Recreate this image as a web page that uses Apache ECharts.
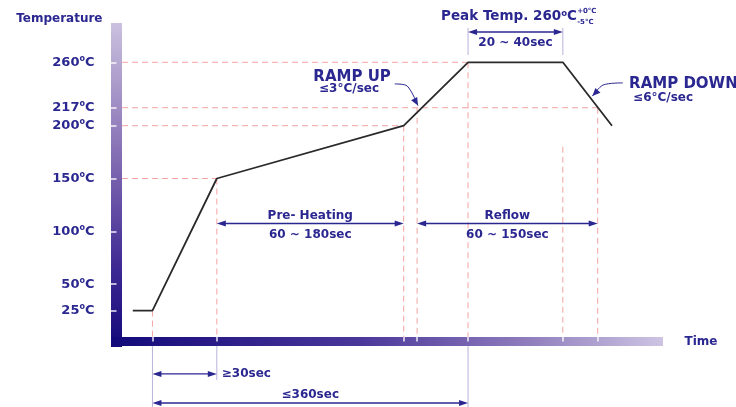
<!DOCTYPE html>
<html><head><meta charset="utf-8">
<script src="https://cdn.jsdelivr.net/npm/echarts@6/dist/echarts.min.js"></script>
<style>html,body{margin:0;padding:0;background:#fff}#c{width:736px;height:407px}</style>
</head><body><div id="c"></div>
<script>
// ---------------- data ----------------
const tempTicks = [25, 50, 100, 150, 200, 217, 260];
const profileTime = [12, 34, 106, 315, 387, 493, 548];
const profileTemp = [25, 25, 150, 200, 260, 260, 200];
const timeMarks = [34, 106, 315, 330, 387, 493, 532];
const guideTemp = [260, 217, 200, 150];
const guideTempEnd = [387, 532, 315, 106];
const guideTime = [34, 106, 315, 330, 387, 493, 532];
const guideTimeTop = [25, 150, 200, 217, 260, 180, 217];
const spanStart = [387, 106, 330, 34, 34];
const spanEnd = [493, 315, 532, 106, 387];
const spanTitle = ['', 'Pre- Heating', 'Reflow', '', '≤360sec'];
const spanDuration = ['20 ~ 40sec', '60 ~ 180sec', '60 ~ 150sec', '≥30sec', ''];
const noteText = ['RAMP UP', '≤3°C/sec', 'RAMP DOWN', '≤6°C/sec'];
const peakTitle = 'Peak Temp. 260';
const toleranceText = ['+0°C', '-5°C'];

// ---------------- layout (positions in axis units) ----------------
const spanLevel = [288.7, 107.4, 107.4, -35, -62.5];
const spanDurationPlace = ['below', 'below', 'below', 'right', 'below'];
const extTime = [387, 493, 34, 106, 387];
const extFrom = [292.5, 292.5, -8.5, -8.5, -8.5];
const extTo = [266.9, 266.9, -66.3, -40.7, -66.3];
const leaderTime = [[305, 319, 331], [560, 538, 526]];
const leaderTemp = [[239.5, 237.5, 219], [240.5, 238.5, 228]];
const noteTime = [257.3, 253.9, 567.1, 571.6];
const noteTemp = [246.4, 234.5, 239.5, 225.9];
const noteAlign = ['center', 'center', 'left', 'left'];
const noteSize = [15, 12, 15, 12];
const peakPos = [356.8, 302.9];
const tolTime = 509;
const tolTemp = [308.6, 298.2];

const NAVY = '#2b2790';
const PINK = '#f5a3a3';
const LAV = '#b8b1dc';
const FF = 'DejaVu Sans';

function head(tip, from, len, half) {
  const dx = tip[0] - from[0], dy = tip[1] - from[1];
  const d = Math.hypot(dx, dy) || 1;
  const ux = dx / d, uy = dy / d;
  const bx = tip[0] - ux * len, by = tip[1] - uy * len;
  return [[tip[0], tip[1]], [bx - uy * half, by + ux * half], [bx + uy * half, by - ux * half]];
}
function txt(text, x, y, align, size) {
  return {type: 'text', style: {text, x, y, align, verticalAlign: 'middle',
    fontSize: size, fontWeight: 'bold', fontFamily: FF, fill: NAVY}};
}

const chart = echarts.init(document.getElementById('c'));
const option = {
  animation: false,
  backgroundColor: '#fff',
  grid: {left: 116.5, right: 77.5, top: 28.5, bottom: 65.5, containLabel: false, outerBoundsMode: 'none'},
  xAxis: {
    type: 'value', min: -6.2, max: 600,
    name: 'Time', nameLocation: 'end', nameGap: 26,
    nameTextStyle: {color: NAVY, fontFamily: FF, fontWeight: 'bold', fontSize: 12},
    axisLine: {show: true, onZero: false, lineStyle: {width: 9, cap: 'square',
      color: new echarts.graphic.LinearGradient(0, 0, 1, 0, [
        {offset: 0, color: '#13097a'}, {offset: 0.45, color: '#4a379a'},
        {offset: 0.75, color: '#8e7cbc'}, {offset: 1, color: '#cdc4e3'}])}},
    axisTick: {show: true, inside: true, customValues: timeMarks, length: 4.5,
      lineStyle: {color: 'rgba(255,255,255,0.9)', width: 1.5}},
    axisLabel: {show: false},
    splitLine: {show: false}
  },
  yAxis: {
    type: 'value', min: -4.3, max: 292,
    name: 'Temperature', nameLocation: 'end', nameGap: 4,
    nameTextStyle: {color: NAVY, fontFamily: FF, fontWeight: 'bold', fontSize: 12,
      align: 'right', padding: [0, 14, 0, 0]},
    axisLine: {show: true, onZero: false, lineStyle: {width: 11, cap: 'square',
      color: new echarts.graphic.LinearGradient(0, 0, 0, 1, [
        {offset: 0, color: '#cbc1df'}, {offset: 0.4, color: '#8670b4'},
        {offset: 0.75, color: '#3f2a94'}, {offset: 1, color: '#13097a'}])}},
    axisTick: {show: true, customValues: tempTicks, length: 5.5,
      lineStyle: {color: 'rgba(255,255,255,0.9)', width: 1.5}},
    axisLabel: {
      customValues: tempTicks, margin: 22,
      formatter: v => `{n|${v}}{s|o}{n|C}`,
      rich: {
        n: {fontSize: 13, fontWeight: 'bold', fontFamily: FF, color: NAVY, lineHeight: 15},
        s: {fontSize: 8, fontWeight: 'bold', fontFamily: FF, color: NAVY, lineHeight: 9, verticalAlign: 'top'}
      }
    },
    splitLine: {show: false}
  },
  series: [
    { // horizontal guides
      type: 'custom', clip: false, silent: true, z: 1,
      data: guideTemp.map((T, i) => [0, guideTempEnd[i], T]),
      renderItem(p, api) {
        const a = api.coord([api.value(0), api.value(2)]);
        const b = api.coord([api.value(1), api.value(2)]);
        return {type: 'line', shape: {x1: a[0], y1: a[1], x2: b[0], y2: b[1]},
          style: {stroke: PINK, lineWidth: 1, lineDash: [6, 4]}};
      }
    },
    { // vertical guides
      type: 'custom', clip: false, silent: true, z: 1,
      data: guideTime.map((t, i) => [t, 0, guideTimeTop[i]]),
      renderItem(p, api) {
        const a = api.coord([api.value(0), api.value(2)]);
        const b = api.coord([api.value(0), api.value(1)]);
        return {type: 'line', shape: {x1: a[0], y1: a[1], x2: b[0], y2: b[1]},
          style: {stroke: PINK, lineWidth: 1, lineDash: [6, 4]}};
      }
    },
    { // extension lines for dimension arrows
      type: 'custom', clip: false, silent: true, z: 1,
      data: extTime.map((t, i) => [t, extFrom[i], extTo[i]]),
      renderItem(p, api) {
        const a = api.coord([api.value(0), api.value(1)]);
        const b = api.coord([api.value(0), api.value(2)]);
        return {type: 'line', shape: {x1: a[0], y1: a[1], x2: b[0], y2: b[1]},
          style: {stroke: LAV, lineWidth: 1}};
      }
    },
    { // reflow profile
      type: 'line', z: 3, silent: true, showSymbol: false, symbol: 'none',
      data: profileTime.map((t, i) => [t, profileTemp[i]]),
      lineStyle: {color: '#2a2a2a', width: 1.8}
    },
    { // dimension arrows
      type: 'custom', clip: false, silent: true, z: 4,
      data: spanStart.map((s, i) => [s, spanEnd[i], spanLevel[i]]),
      renderItem(p, api) {
        const i = p.dataIndex;
        const a = api.coord([api.value(0), api.value(2)]);
        const b = api.coord([api.value(1), api.value(2)]);
        const ch = [
          {type: 'line', shape: {x1: a[0] + 4, y1: a[1], x2: b[0] - 4, y2: b[1]}, style: {stroke: NAVY, lineWidth: 1.3}},
          {type: 'polygon', shape: {points: head(a, [a[0] + 1, a[1]], 9, 3)}, style: {fill: NAVY}},
          {type: 'polygon', shape: {points: head(b, [b[0] - 1, b[1]], 9, 3)}, style: {fill: NAVY}}
        ];
        const mid = (a[0] + b[0]) / 2;
        if (spanTitle[i]) ch.push(txt(spanTitle[i], mid, a[1] - 8, 'center', 12));
        if (spanDuration[i]) {
          if (spanDurationPlace[i] === 'right') ch.push(txt(spanDuration[i], b[0] + 5, b[1], 'left', 12));
          else ch.push(txt(spanDuration[i], mid, a[1] + 11, 'center', 12));
        }
        return {type: 'group', children: ch};
      }
    },
    { // ramp leaders
      type: 'custom', clip: false, silent: true, z: 4,
      data: leaderTime.map((ts, i) => [ts[ts.length - 1], leaderTemp[i][ts.length - 1]]),
      renderItem(p, api) {
        const i = p.dataIndex;
        const pts = leaderTime[i].map((t, k) => api.coord([t, leaderTemp[i][k]]));
        const tip = pts[pts.length - 1], prev = pts[pts.length - 2];
        return {type: 'group', children: [
          {type: 'polyline', shape: {points: pts, smooth: 0.3}, style: {stroke: NAVY, lineWidth: 1, fill: null}},
          {type: 'polygon', shape: {points: head(tip, prev, 8, 3.5)}, style: {fill: NAVY}}
        ]};
      }
    },
    { // notes
      type: 'custom', clip: false, silent: true, z: 5,
      data: noteTime.map((t, i) => [t, noteTemp[i]]),
      renderItem(p, api) {
        const i = p.dataIndex;
        const c = api.coord([api.value(0), api.value(1)]);
        return txt(noteText[i], c[0], c[1], noteAlign[i], noteSize[i]);
      }
    },
    { // peak temperature title
      type: 'custom', clip: false, silent: true, z: 5,
      data: [peakPos],
      renderItem(p, api) {
        const c = api.coord([api.value(0), api.value(1)]);
        const t1 = api.coord([tolTime, tolTemp[0]]);
        const t2 = api.coord([tolTime, tolTemp[1]]);
        return {type: 'group', children: [
          {type: 'text', style: {text: `{n|${peakTitle}}{s|o}{n|C}`, x: c[0], y: c[1], align: 'left', verticalAlign: 'middle',
            rich: {
              n: {fontSize: 13.5, fontWeight: 'bold', fontFamily: FF, fill: NAVY, lineHeight: 15},
              s: {fontSize: 8.5, fontWeight: 'bold', fontFamily: FF, fill: NAVY, lineHeight: 9, verticalAlign: 'top'}
            }}},
          txt(toleranceText[0], t1[0], t1[1], 'left', 7),
          txt(toleranceText[1], t2[0], t2[1], 'left', 7)
        ]};
      }
    }
  ]
};
chart.setOption(option);
</script>
</body></html>
